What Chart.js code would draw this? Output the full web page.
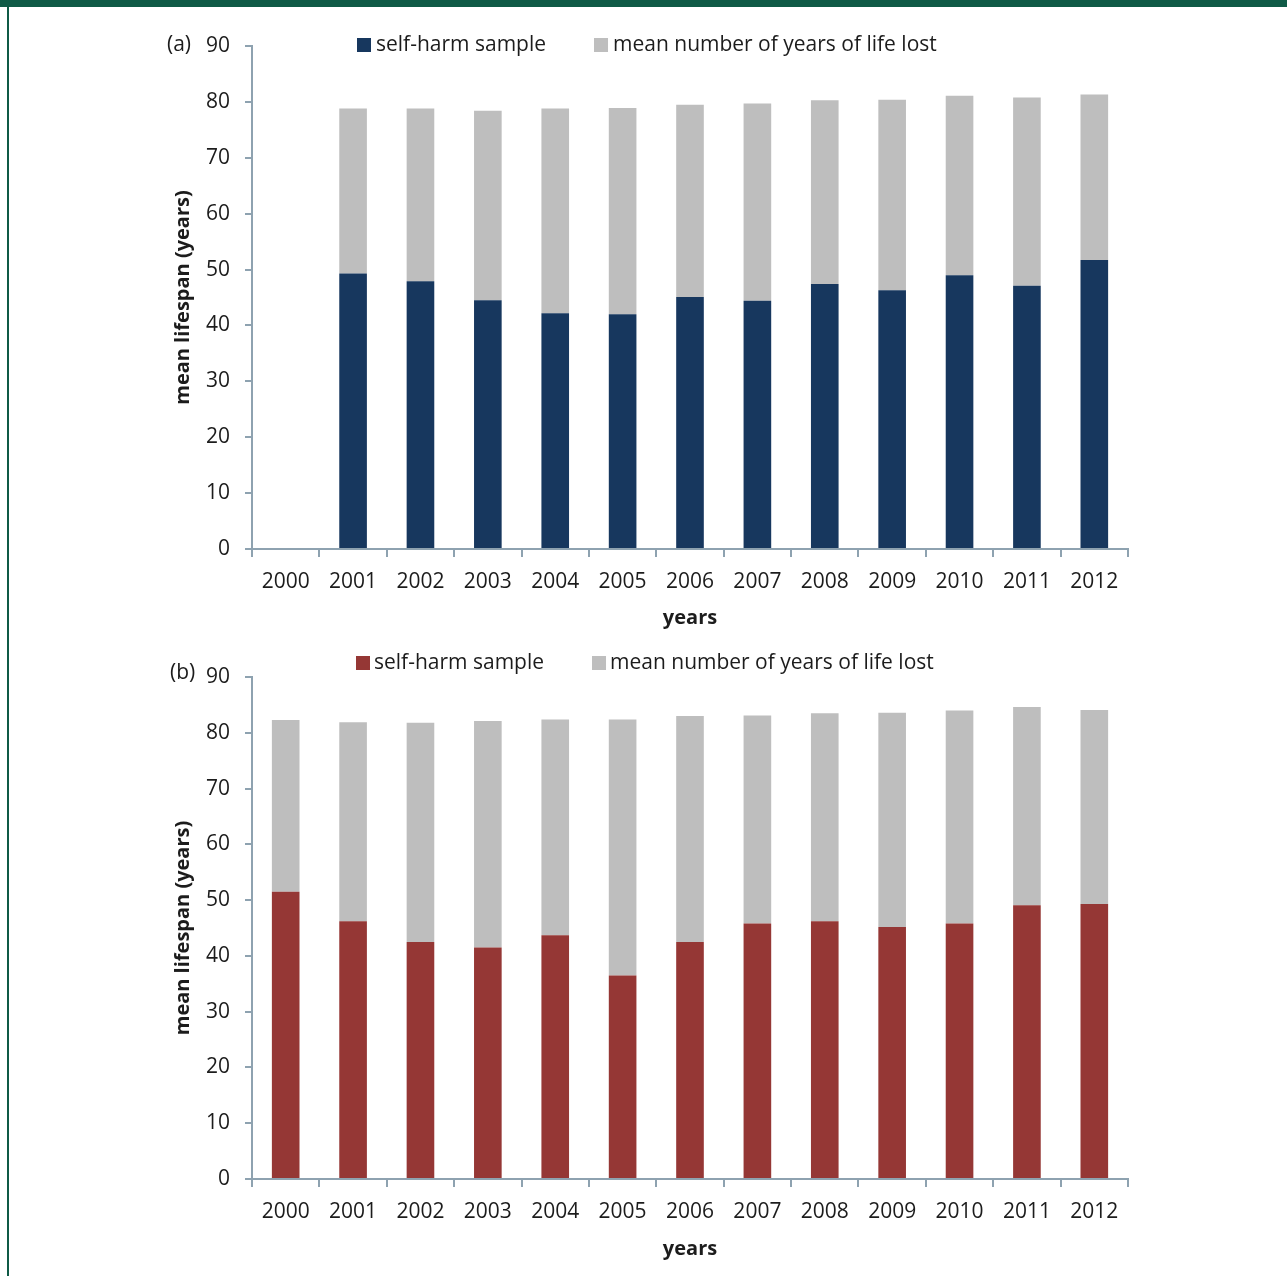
<!DOCTYPE html>
<html>
<head>
<meta charset="utf-8">
<script src="https://cdn.jsdelivr.net/npm/chart.js@4.4.0/dist/chart.umd.min.js"></script>
<style>
  body { margin: 0; background: #fff; overflow: hidden; width: 1287px; height: 1276px; position: relative; }
  .topbar { position: absolute; left: 0; top: 0; width: 1287px; height: 7px; background: #0f5a46; }
  .leftbar { position: absolute; left: 7px; top: 0; width: 2px; height: 1276px; background: #0f5a46; }
  canvas { position: absolute; left: 0; }
  #chartA { top: 0; }
  #chartB { top: 640px; }
</style>
</head>
<body>
<div class="topbar"></div>
<div class="leftbar"></div>
<canvas id="chartA" width="1287" height="640"></canvas>
<canvas id="chartB" width="1287" height="636"></canvas>
<script>
const years = ['2000', '2001', '2002', '2003', '2004', '2005', '2006', '2007', '2008', '2009', '2010', '2011', '2012'];
const yTicks = [0, 10, 20, 30, 40, 50, 60, 70, 80, 90];
const seriesNames = ['self-harm sample', 'mean number of years of life lost'];

// (a) men
const selfHarmA = [null, 49.3, 47.9, 44.5, 42.2, 42.0, 45.1, 44.4, 47.4, 46.3, 49.0, 47.1, 51.7];
const yearsLostA = [null, 29.5, 30.9, 33.9, 36.6, 36.9, 34.4, 35.3, 32.9, 34.1, 32.1, 33.7, 29.6];

// (b) women
const selfHarmB = [51.5, 46.2, 42.5, 41.5, 43.7, 36.5, 42.5, 45.8, 46.2, 45.2, 45.8, 49.1, 49.3];
const yearsLostB = [30.8, 35.7, 39.3, 40.6, 38.7, 45.9, 40.5, 37.3, 37.3, 38.4, 38.2, 35.5, 34.8];

const axisColor = '#8ea2b0';
const textColor = '#1c1c1c';
const grey = '#bebebe';

Chart.defaults.font.family = "'Open Sans', sans-serif";
Chart.defaults.font.size = 21;
Chart.defaults.color = textColor;

// legend + panel tag drawn on the canvas
const panelDecor = {
    id: 'panelDecor',
    afterDraw(chart, args, o) {
        const ctx = chart.ctx;
        ctx.save();
        ctx.font = "21px 'Open Sans', sans-serif";
        ctx.fillStyle = textColor;
        ctx.textBaseline = 'middle';
        ctx.textAlign = 'left';
        ctx.fillText(o.tag, o.tagX, o.tagY);

        let x = o.legendX;
        chart.data.datasets.forEach(ds => {
            ctx.fillStyle = ds.backgroundColor;
            ctx.fillRect(x, o.legendY - 7, 14, 14);
            ctx.fillStyle = textColor;
            ctx.fillText(ds.label, x + o.legendTextGap, o.legendY);
            x += o.legendTextGap + ctx.measureText(ds.label).width + o.legendItemGap;
        });
        ctx.restore();
    }
};

function makeChart(id, selfData, lostData, selfColor, lay) {
    return new Chart(document.getElementById(id), {
        type: 'bar',
        data: {
            labels: years,
            datasets: [
                { label: seriesNames[0], data: selfData, backgroundColor: selfColor },
                { label: seriesNames[1], data: lostData, backgroundColor: grey }
            ]
        },
        options: {
            responsive: false,
            animation: false,
            devicePixelRatio: 1,
            barPercentage: 0.41,
            categoryPercentage: 1,
            layout: { padding: { left: 167, right: 159, top: lay.top, bottom: lay.bottom } },
            plugins: {
                legend: { display: false },
                tooltip: { enabled: false },
                panelDecor: lay.decor
            },
            scales: {
                x: {
                    stacked: true,
                    border: { color: axisColor, width: 2 },
                    grid: { display: true, drawOnChartArea: false, offset: true, tickLength: 8, color: axisColor, lineWidth: 2 },
                    ticks: { padding: 12, color: textColor, maxRotation: 0 },
                    title: { display: true, text: 'years', font: { weight: 'bold', size: 20 }, color: textColor, padding: 0 },
                    afterFit: s => { s.height = lay.xHeight; }
                },
                y: {
                    stacked: true,
                    min: 0,
                    max: 90,
                    afterBuildTicks: s => { s.ticks = yTicks.map(v => ({ value: v })); },
                    border: { color: axisColor, width: 2 },
                    grid: { display: true, drawOnChartArea: false, tickLength: 7, color: axisColor, lineWidth: 2 },
                    ticks: { padding: 15, color: textColor },
                    title: { display: true, text: 'mean lifespan (years)', font: { weight: 'bold', size: 20 }, color: textColor, padding: { top: 4, bottom: 0 } },
                    afterFit: s => { s.width = 85; }
                }
            }
        },
        plugins: [panelDecor]
    });
}

makeChart('chartA', selfHarmA, yearsLostA, '#17375e', {
    top: 46, bottom: 10, xHeight: 81,
    decor: { tag: '(a)', tagX: 167, tagY: 45, legendX: 357, legendY: 45, legendTextGap: 19, legendItemGap: 48 }
});

makeChart('chartB', selfHarmB, yearsLostB, '#953735', {
    top: 37, bottom: 15, xHeight: 82,
    decor: { tag: '(b)', tagX: 170, tagY: 33, legendX: 356, legendY: 23, legendTextGap: 18, legendItemGap: 48 }
});
</script>
</body>
</html>
